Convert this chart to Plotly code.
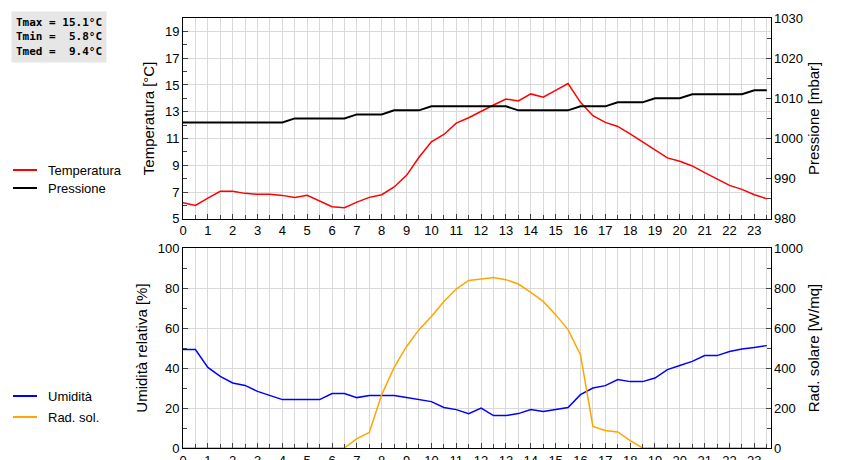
import plotly.graph_objects as go
from plotly.subplots import make_subplots

# ore del giorno, ogni 30 minuti
ore = [i * 0.5 for i in range(48)]

temperatura = [6.2, 6.0, 6.55, 7.05, 7.05, 6.9, 6.83, 6.83, 6.75, 6.6, 6.75, 6.3,
               5.9, 5.83, 6.25, 6.6, 6.8, 7.38, 8.25, 9.6, 10.75, 11.3, 12.15, 12.55,
               13.05, 13.5, 13.95, 13.8, 14.33, 14.08, 14.6, 15.1, 13.7, 12.7, 12.2, 11.9,
               11.35, 10.75, 10.1, 9.55, 9.3, 8.95, 8.45, 8.0, 7.5, 7.2, 6.8, 6.5]

pressione = [1004, 1004, 1004, 1004, 1004, 1004, 1004, 1004, 1004, 1005, 1005, 1005,
             1005, 1005, 1006, 1006, 1006, 1007, 1007, 1007, 1008, 1008, 1008, 1008,
             1008, 1008, 1008, 1007, 1007, 1007, 1007, 1007, 1008, 1008, 1008, 1009,
             1009, 1009, 1010, 1010, 1010, 1011, 1011, 1011, 1011, 1011, 1012, 1012]

umidita = [49.2, 49.2, 40.3, 35.8, 32.5, 31.3, 28.3, 26.3, 24.2, 24.2, 24.2, 24.2,
           27.2, 27.2, 25.2, 26.2, 26.2, 26.2, 25.2, 24.2, 23.2, 20.3, 19.2, 17.2,
           20.0, 16.2, 16.2, 17.2, 19.2, 18.2, 19.2, 20.2, 26.7, 30.0, 31.2, 34.2,
           33.2, 33.2, 35.0, 39.2, 41.3, 43.3, 46.2, 46.2, 48.3, 49.5, 50.3, 51.2]

rad_sol = [0, 0, 0, 0, 0, 0, 0, 0, 0, 0, 0, 0,
           0, 0, 47, 78, 267, 403, 508, 592, 658, 733, 795, 838,
           845, 853, 842, 820, 778, 733, 667, 592, 467, 108, 88, 80,
           37, 0, 0, 0, 0, 0, 0, 0, 0, 0, 0, 0]

stats = "Tmax = 15.1°C<br>Tmin =  5.8°C<br>Tmed =  9.4°C"

fig = make_subplots(rows=2, cols=1, specs=[[{"secondary_y": True}], [{"secondary_y": True}]])

fig.add_trace(go.Scatter(x=ore, y=temperatura, mode="lines", line=dict(color="#ff0000", width=1.5),
                         name="Temperatura"), row=1, col=1, secondary_y=False)
fig.add_trace(go.Scatter(x=ore, y=pressione, mode="lines", line=dict(color="black", width=2),
                         name="Pressione"), row=1, col=1, secondary_y=True)
fig.add_trace(go.Scatter(x=ore, y=umidita, mode="lines", line=dict(color="#0000ff", width=1.5),
                         name="Umidità"), row=2, col=1, secondary_y=False)
fig.add_trace(go.Scatter(x=ore, y=rad_sol, mode="lines", line=dict(color="#ffa500", width=1.5),
                         name="Rad. sol."), row=2, col=1, secondary_y=True)

ax_font = dict(family="Liberation Sans", size=13, color="black")
tit_font = dict(family="Liberation Sans", size=15, color="black")
grid = "#d9d9d9"

fig.update_xaxes(range=[0, 23.65], tickmode="linear", tick0=0, dtick=1, ticks="inside", ticklen=5,
                 showgrid=True, gridcolor=grid, showline=True, linecolor="black", mirror=True,
                 tickfont=ax_font, zeroline=False, automargin=False,
                 minor=dict(dtick=0.5, showgrid=True, gridcolor=grid, ticks="inside", ticklen=4))

def yax(rng, dt, title, grid_on):
    return dict(range=rng, dtick=dt, tick0=rng[0], ticks="inside", ticklen=5, showgrid=grid_on,
                gridcolor=grid, showline=True, linecolor="black", zeroline=False, automargin=False,
                tickfont=ax_font, title=dict(text=title, font=tit_font, standoff=6),
                minor=dict(dtick=dt / 2, ticks="inside", ticklen=4, showgrid=False))

fig.update_yaxes(**yax([5, 20], 2, "Temperatura [°C]", True), row=1, col=1, secondary_y=False)
fig.update_yaxes(**yax([980, 1030], 10, "Pressione [mbar]", False), row=1, col=1, secondary_y=True)
fig.update_yaxes(**yax([0, 100], 20, "Umidità relativa [%]", True), row=2, col=1, secondary_y=False)
fig.update_yaxes(**yax([0, 1000], 200, "Rad. solare [W/mq]", False), row=2, col=1, secondary_y=True)

fig.update_layout(
    width=860, height=460, showlegend=False,
    paper_bgcolor="white", plot_bgcolor="white",
    margin=dict(l=175, r=60, t=10, b=20),
)
fig.layout.yaxis.domain = [0.533, 1]
fig.layout.yaxis2.domain = [0.533, 1]
fig.layout.yaxis3.domain = [0, 0.465]
fig.layout.yaxis4.domain = [0, 0.465]

# legenda a sinistra
legenda = [("Temperatura", "#ff0000", 162), ("Pressione", "black", 180),
           ("Umidità", "#0000ff", 388), ("Rad. sol.", "#ffa500", 409)]
for nome, col, py in legenda:
    yp = (440 - py) / 430
    fig.add_shape(type="line", xref="paper", yref="paper", x0=(5 - 175) / 625, x1=(29 - 175) / 625,
                  y0=yp, y1=yp, line=dict(color=col, width=2))
    fig.add_annotation(xref="paper", yref="paper", x=(38 - 175) / 625, y=yp, text=nome,
                       showarrow=False, xanchor="left", yanchor="middle",
                       font=dict(family="Liberation Sans", size=13, color="black"))

fig.add_annotation(xref="paper", yref="paper", x=(3 - 175) / 625, y=(440 - 3) / 430, text=stats,
                   showarrow=False, xanchor="left", yanchor="top", align="left",
                   bgcolor="#e6e6e6", borderpad=4,
                   font=dict(family="DejaVu Sans Mono", size=11, color="black", weight="bold"))

fig.write_html("out.html")
